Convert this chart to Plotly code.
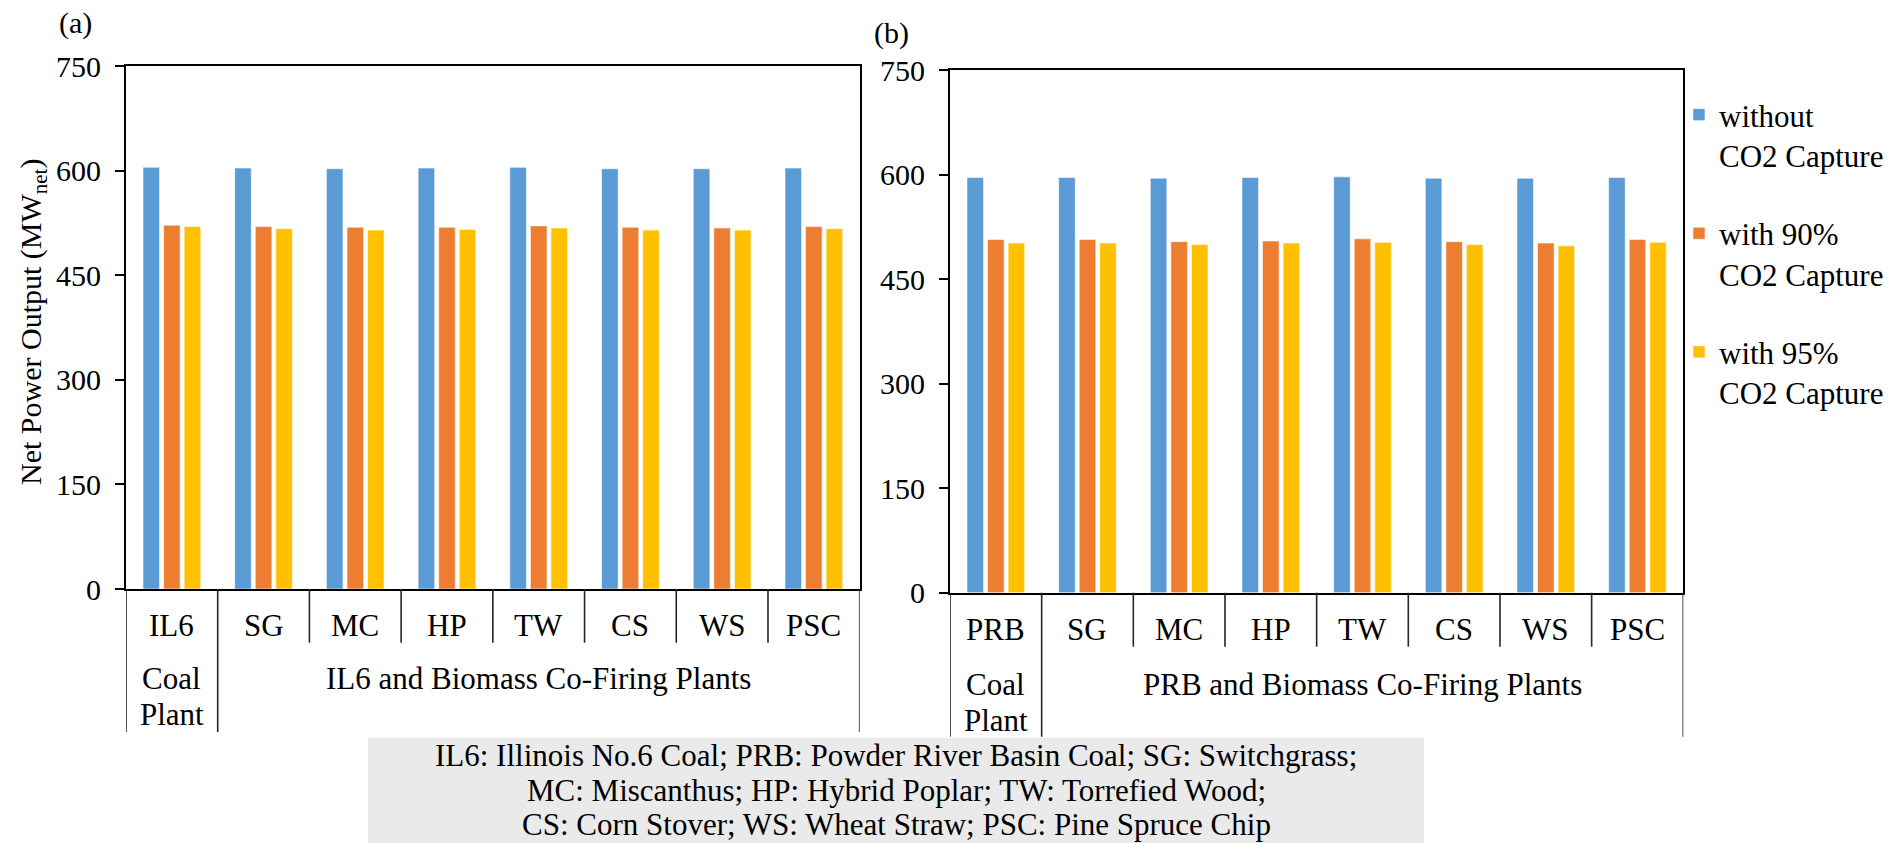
import plotly.graph_objects as go

W, H = 1896, 843
FONT = "Liberation Serif"

# Series
series_names = ["without<br>CO2 Capture", "with 90%<br>CO2 Capture", "with 95%<br>CO2 Capture"]
series_colors = ["#5B9BD5", "#ED7D31", "#FFC000"]

# Panel (a): Illinois No.6 coal and co-firing plants
cats_a = ["IL6", "SG", "MC", "HP", "TW", "CS", "WS", "PSC"]
no_capture_a = [605, 604, 603, 604, 605, 603, 603, 604]
capture90_a = [522, 520, 519, 519, 521, 519, 518, 520]
capture95_a = [520, 517, 515, 516, 518, 515, 515, 517]
group_a = "IL6 and Biomass Co-Firing Plants"

# Panel (b): Powder River Basin coal and co-firing plants
cats_b = ["PRB", "SG", "MC", "HP", "TW", "CS", "WS", "PSC"]
no_capture_b = [596, 596, 595, 596, 597, 595, 595, 596]
capture90_b = [507, 507, 504, 505, 508, 504, 502, 507]
capture95_b = [502, 502, 500, 502, 503, 500, 498, 503]
group_b = "PRB and Biomass Co-Firing Plants"

coal_label = ["Coal", "Plant"]
y_ticks = [0, 150, 300, 450, 600, 750]

footer_lines = [
    "IL6: Illinois No.6 Coal; PRB: Powder River Basin Coal; SG: Switchgrass;",
    "MC: Miscanthus; HP: Hybrid Poplar; TW: Torrefied Wood;",
    "CS: Corn Stover; WS: Wheat Straw; PSC: Pine Spruce Chip",
]


def px(x):
    return x / W


def py(y):
    return 1 - y / H


fig = go.Figure()

panels = [
    dict(xa="x", ya="y", cats=cats_a, vals=[no_capture_a, capture90_a, capture95_a], legend=True),
    dict(xa="x2", ya="y2", cats=cats_b, vals=[no_capture_b, capture90_b, capture95_b], legend=False),
]
for p in panels:
    for name, color, vals in zip(series_names, series_colors, p["vals"]):
        fig.add_trace(go.Bar(
            x=p["cats"], y=vals, name=name, xaxis=p["xa"], yaxis=p["ya"],
            marker=dict(color=color, line=dict(color="rgba(255,255,255,0.55)", width=1)),
            showlegend=p["legend"], legendgroup=name,
        ))

# panel geometry in pixels: left, right, top, bottom of plot area; bottom of long/short dividers
geo = {
    "a": dict(l=126, r=859.7, t=66.3, b=589, long=732, short=642.7, cat_y=625, coal_y=(678, 714), grp_y=678),
    "b": dict(l=950, r=1683.3, t=70.3, b=592.7, long=736.7, short=646.7, cat_y=629, coal_y=(684, 720), grp_y=684),
}

axis_common = dict(showline=True, linewidth=2, linecolor="black", mirror=True, showgrid=False,
                   zeroline=False, automargin=False)
yaxis_common = dict(
    range=[0, 750], tickvals=y_ticks, ticks="outside", ticklen=9, tickwidth=2, tickcolor="black",
    tickfont=dict(family=FONT, size=30, color="black"), ticklabelstandoff=8, **axis_common,
)
xaxis_common = dict(range=[-0.5, 7.5], type="category", showticklabels=False, ticks="", **axis_common)

ga, gb = geo["a"], geo["b"]
fig.update_layout(
    xaxis=dict(domain=[px(ga["l"]), px(ga["r"])], anchor="y", **xaxis_common),
    yaxis=dict(domain=[py(ga["b"]), py(ga["t"])], anchor="x", **yaxis_common),
    xaxis2=dict(domain=[px(gb["l"]), px(gb["r"])], anchor="y2", **xaxis_common),
    yaxis2=dict(domain=[py(gb["b"]), py(gb["t"])], anchor="x2", **yaxis_common),
)

annotations = []
shapes = []
for key, xref, cats, grp in [("a", "x", cats_a, group_a), ("b", "x2", cats_b, group_b)]:
    g = geo[key]
    n = len(cats)
    # category dividers below the axis
    for i in range(n + 1):
        xb = i - 0.5
        bottom = g["long"] if i in (0, 1, n) else g["short"]
        shapes.append(dict(type="line", xref=xref, yref="paper", x0=xb, x1=xb,
                           y0=py(g["b"]), y1=py(bottom), line=dict(color="#262626", width=1.6)))
    for i, c in enumerate(cats):
        annotations.append(dict(text=c, xref=xref, yref="paper", x=i, y=py(g["cat_y"]),
                                showarrow=False, xanchor="center", yanchor="middle",
                                font=dict(family=FONT, size=31, color="black")))
    for txt, yy in zip(coal_label, g["coal_y"]):
        annotations.append(dict(text=txt, xref=xref, yref="paper", x=0, y=py(yy),
                                showarrow=False, xanchor="center", yanchor="middle",
                                font=dict(family=FONT, size=31, color="black")))
    annotations.append(dict(text=grp, xref=xref, yref="paper", x=(1 + n - 1) / 2, y=py(g["grp_y"]),
                            showarrow=False, xanchor="center", yanchor="middle",
                            font=dict(family=FONT, size=31, color="black")))

# panel tags
annotations.append(dict(text="(a)", xref="paper", yref="paper", x=px(75), y=py(23), showarrow=False,
                        xanchor="center", yanchor="middle", font=dict(family=FONT, size=30, color="black")))
annotations.append(dict(text="(b)", xref="paper", yref="paper", x=px(891), y=py(33), showarrow=False,
                        xanchor="center", yanchor="middle", font=dict(family=FONT, size=30, color="black")))

# y axis title
annotations.append(dict(text="Net Power Output (MW<sub>net</sub>)", xref="paper", yref="paper",
                        x=px(33), y=py(322), showarrow=False, textangle=-90,
                        xanchor="center", yanchor="middle", font=dict(family=FONT, size=30, color="black")))

# footnote box
shapes.append(dict(type="rect", xref="paper", yref="paper", x0=px(368), x1=px(1424), y0=0, y1=py(738),
                   fillcolor="#EAEAEA", line=dict(width=0), layer="below"))
for txt, yy in zip(footer_lines, [755.5, 790.5, 824]):
    annotations.append(dict(text=txt, xref="paper", yref="paper", x=px(896), y=py(yy), showarrow=False,
                            xanchor="center", yanchor="middle", font=dict(family=FONT, size=31, color="black")))

fig.update_layout(
    width=W, height=H, autosize=False,
    margin=dict(l=0, r=0, t=0, b=0, pad=0, autoexpand=False),
    paper_bgcolor="white", plot_bgcolor="white",
    barmode="group", bargap=0.327, bargroupgap=0.195,
    shapes=shapes, annotations=annotations,
    legend=dict(x=px(1679), y=py(88), xanchor="left", yanchor="top", valign="top",
                tracegroupgap=35, bgcolor="rgba(0,0,0,0)",
                font=dict(family=FONT, size=31, color="black")),
    font=dict(family=FONT, color="black"),
)

fig.write_html("out.html")
